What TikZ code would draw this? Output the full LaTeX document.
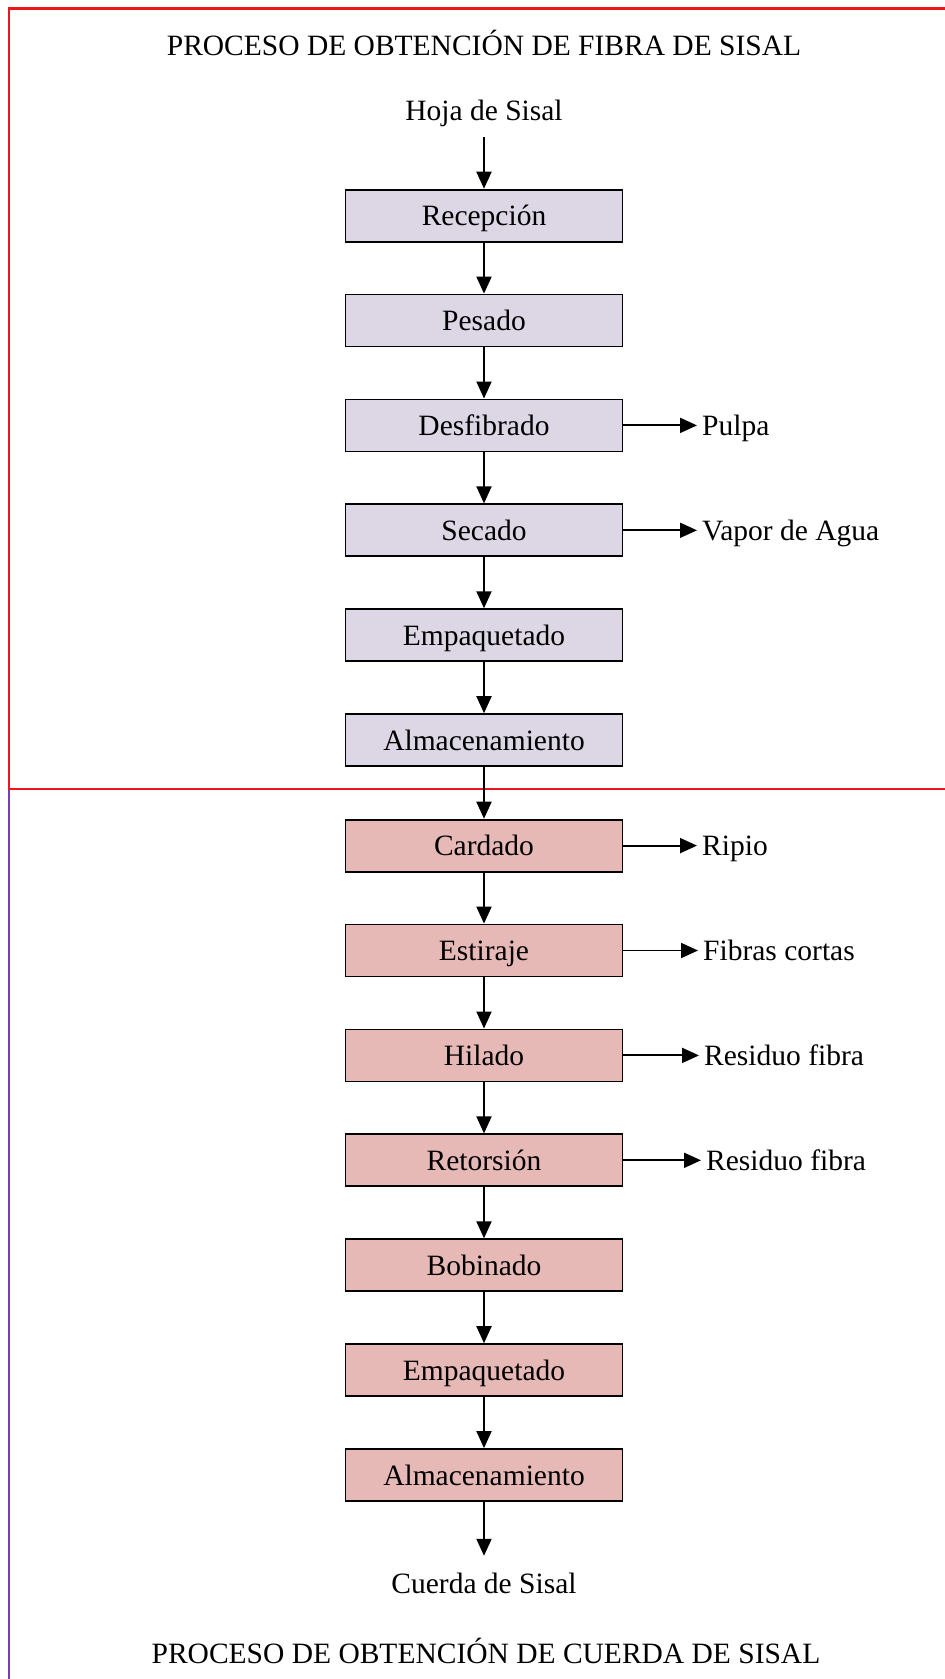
\documentclass[tikz,border=0pt]{standalone}
\usepackage{fontspec}
\setmainfont{Liberation Serif}
\usetikzlibrary{arrows.meta}
\definecolor{fiberfill}{RGB}{221,215,229}
\definecolor{ropefill}{RGB}{230,185,183}
\definecolor{framered}{RGB}{240,20,30}
\definecolor{framepurple}{RGB}{120,60,180}
\tikzset{
  every node/.style={font=\fontsize{29.5}{34}\selectfont},
  stagebox/.style={draw=black, line width=1.8pt, minimum width=277pt, minimum height=52pt,
    inner sep=0pt, text height=23pt, text depth=3pt},
  fiberstage/.style={stagebox, fill=fiberfill},
  ropestage/.style={stagebox, fill=ropefill},
  endpoint/.style={inner xsep=2pt, inner ysep=14pt, text height=23pt, text depth=3pt},
  waste/.style={anchor=west, inner xsep=5pt, inner ysep=0pt, text height=23pt, text depth=3pt},
  flow/.style={line width=1.9pt, -{Triangle[length=17pt,width=15pt]}},
  title/.style={inner sep=0pt, text height=23pt, text depth=3pt}
}
\begin{document}
\begin{tikzpicture}[x=1pt,y=-1pt]
\useasboundingbox (0,0) rectangle (945,1679);

% section frames
\draw[framepurple, line width=2.2pt] (9,789) -- (9,1679);
\draw[framered, line width=2.4pt] (945,8.5) -- (9,8.5) -- (9,789) -- (945,789);

% titles
\node[title] (t1) at (484,45) {PROCESO DE OBTENCIÓN DE FIBRA DE SISAL};
\node[title] (t2) at (486,1653) {PROCESO DE OBTENCIÓN DE CUERDA DE SISAL};

% input and output
\node[endpoint] (in) at (484,110) {Hoja de Sisal};
\node[endpoint] (out) at (484,1583) {Cuerda de Sisal};

% fibre stages
\node[fiberstage] (s0) at (484,215.6) {Recepción};
\node[fiberstage] (s1) at (484,320.5) {Pesado};
\node[fiberstage] (s2) at (484,425.4) {Desfibrado};
\node[fiberstage] (s3) at (484,530.3) {Secado};
\node[fiberstage] (s4) at (484,635.2) {Empaquetado};
\node[fiberstage] (s5) at (484,740.1) {Almacenamiento};
% rope stages
\node[ropestage] (s6) at (484,845.6) {Cardado};
\node[ropestage] (s7) at (484,950.5) {Estiraje};
\node[ropestage] (s8) at (484,1055.4) {Hilado};
\node[ropestage] (s9) at (484,1160.3) {Retorsión};
\node[ropestage] (s10) at (484,1265.2) {Bobinado};
\node[ropestage] (s11) at (484,1370.1) {Empaquetado};
\node[ropestage] (s12) at (484,1475.0) {Almacenamiento};

% by-products
\node[waste] (w2) at (697,425.4) {Pulpa};
\node[waste] (w3) at (697,530.3) {Vapor de Agua};
\node[waste] (w6) at (697,845.6) {Ripio};
\node[waste] (w7) at (698,950.5) {Fibras cortas};
\node[waste] (w8) at (699,1055.4) {Residuo fibra};
\node[waste] (w9) at (701,1160.3) {Residuo fibra};

% main flow
\draw[flow] (in) -- (s0);
\foreach \a/\b in {s0/s1,s1/s2,s2/s3,s3/s4,s4/s5,s5/s6,s6/s7,s7/s8,s8/s9,s9/s10,s10/s11,s11/s12}
  \draw[flow] (\a) -- (\b);
\draw[flow] (s12) -- (out);

% side outputs
\foreach \s/\w in {s2/w2,s3/w3,s6/w6,s7/w7,s8/w8,s9/w9}
  \draw[flow] (\s.east) -- (\w.west);
\end{tikzpicture}
\end{document}
